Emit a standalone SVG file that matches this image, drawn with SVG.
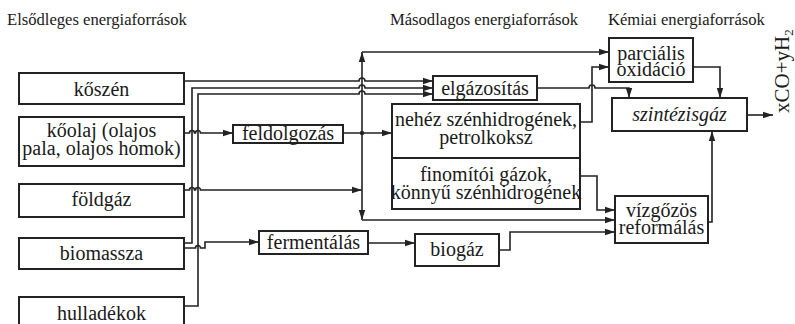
<svg xmlns="http://www.w3.org/2000/svg" width="795" height="324" viewBox="0 0 795 324">
<defs>
<marker id="ar" markerWidth="10" markerHeight="8" refX="10" refY="4" orient="auto" markerUnits="userSpaceOnUse">
<path d="M0,0.8 L10,4 L0,7.2 Z" fill="#222"/>
</marker>
<style>
.box{fill:#fff;stroke:#222;stroke-width:2}
.t{font-family:"Liberation Serif","Times New Roman",serif;font-size:20px;fill:#1a1a1a;text-anchor:middle}
.h{font-family:"Liberation Serif","Times New Roman",serif;font-size:16.6px;fill:#1a1a1a}
.c{fill:none;stroke:#222;stroke-width:1.6}
.a{marker-end:url(#ar)}
</style>
</defs>
<rect width="795" height="324" fill="#fff"/>
<text class="h" x="7" y="25">Elsődleges energiaforrások</text>
<text class="h" x="390" y="25">Másodlagos energiaforrások</text>
<text class="h" x="608" y="25">Kémiai energiaforrások</text>

<g id="connectors">
<path class="c a" d="M184,81 H359 a3,3 0 0 1 6,0 H433"/>
<path class="c a" d="M184,243 H192 V88 H359 a3,3 0 0 1 6,0 H433"/>
<path class="c a" d="M184,306 H198 V94 H359 a3,3 0 0 1 6,0 H433"/>
<path class="c a" d="M184,133 H189.5 a2.5,2.5 0 0 1 5,0 H195.5 a2.5,2.5 0 0 1 5,0 H233"/>
<path class="c a" d="M184,190 H189.5 a2.5,2.5 0 0 1 5,0 H195.5 a2.5,2.5 0 0 1 5,0 H362"/>
<path class="c a" d="M343,133 H392"/>
<circle cx="362" cy="133" r="2.2" fill="#222"/>
<path class="c a" d="M362,190 V52"/>
<path class="c a" d="M362,190 V220"/>
<path class="c a" d="M362,52 H609"/>
<path class="c a" d="M362,220 H615"/>
<path class="c a" d="M537,88 H589 a3,3 0 0 1 6,0 H629 V98"/>
<path class="c a" d="M580,122 H592 V67 H609"/>
<path class="c a" d="M693,67 H720 V98"/>
<path class="c a" d="M747,115 H773"/>
<path class="c a" d="M580,176 H597 V210 H615"/>
<path class="c a" d="M499,250 H510 V232 H615"/>
<path class="c a" d="M368,243 H415"/>
<path class="c a" d="M184,248 H195.5 a2.5,2.5 0 0 1 5,0 H205 V242 H259"/>
<path class="c a" d="M707,222 H712 V131"/>
</g>

<g id="koszen"><rect class="box" x="19" y="73" width="165" height="31"/><text class="t" x="101.5" y="96">kőszén</text></g>
<g id="koolaj"><rect class="box" x="19" y="117" width="165" height="49"/><text class="t" x="101.5" y="137">kőolaj (olajos</text><text class="t" x="101.5" y="155">pala, olajos homok)</text></g>
<g id="foldgaz"><rect class="box" x="19" y="184" width="165" height="33"/><text class="t" x="101.5" y="206">földgáz</text></g>
<g id="biomassza"><rect class="box" x="19" y="238" width="165" height="31"/><text class="t" x="101.5" y="260">biomassza</text></g>
<g id="hulladekok"><rect class="box" x="19" y="297" width="165" height="34"/><text class="t" x="101.5" y="320">hulladékok</text></g>
<g id="feldolgozas"><rect class="box" x="233" y="125" width="110" height="18"/><text class="t" x="288" y="139.5">feldolgozás</text></g>
<g id="elgazositas"><rect class="box" x="433" y="76" width="104" height="24"/><text class="t" x="485" y="94.5">elgázosítás</text></g>
<g id="nehez"><rect class="box" x="392" y="104" width="188" height="54"/><text class="t" x="486" y="126">nehéz szénhidrogének,</text><text class="t" x="486" y="144">petrolkoksz</text></g>
<g id="finomitoi"><rect class="box" x="392" y="158" width="188" height="51"/><text class="t" x="486" y="181">finomítói gázok,</text><text class="t" x="486" y="199">könnyű szénhidrogének</text></g>
<g id="parcialis"><rect class="box" x="609" y="38" width="84" height="44"/><text class="t" x="651" y="60">parciális</text><text class="t" x="651" y="76">oxidáció</text></g>
<g id="szintezisgaz"><rect class="box" x="612" y="98" width="135" height="33"/><text class="t" x="679.5" y="121" font-style="italic">szintézisgáz</text></g>
<g id="vizgozos"><rect class="box" x="615" y="196" width="93" height="47"/><text class="t" x="661.5" y="217">vízgőzös</text><text class="t" x="661.5" y="234">reformálás</text></g>
<g id="fermentalas"><rect class="box" x="259" y="231" width="109" height="23"/><text class="t" x="313.5" y="249">fermentálás</text></g>
<g id="biogaz"><rect class="box" x="415" y="234" width="84" height="32"/><text class="t" x="457" y="256">biogáz</text></g>
<g id="output"><text class="t" style="text-anchor:start;font-size:21px" transform="translate(789,113) rotate(-90)">xCO+yH<tspan font-size="13" dy="4">2</tspan></text></g>
</svg>
